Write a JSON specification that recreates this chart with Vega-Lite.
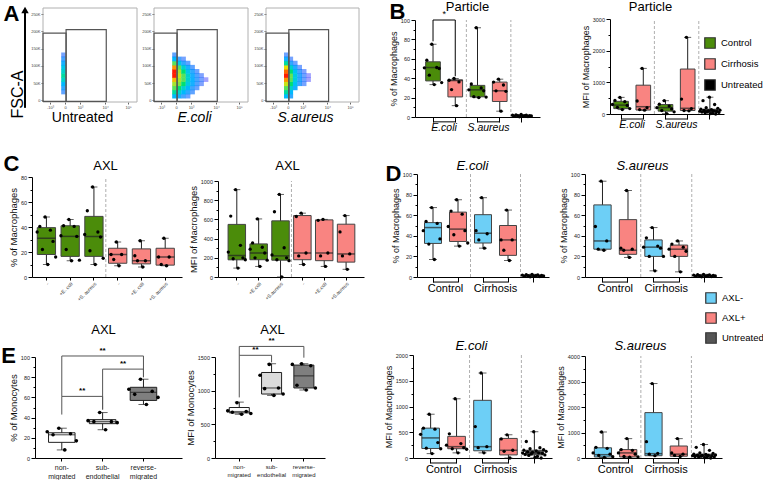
{
"$schema": "https://vega.github.io/schema/vega-lite/v6.json",
"width": 763, "height": 480,
"autosize": {"type": "none"},
"padding": 0,
"background": "white",
"config": {
  "font": "Liberation Sans",
  "view": {"stroke": null},
  "axis": {"grid": false, "domainColor": "#000", "domainWidth": 1, "tickColor": "#000", "tickWidth": 1, "labelFont": "Liberation Sans", "labelFontSize": 5.5, "labelColor": "#222", "labelPadding": 1.5, "labelFlush": false, "titleFont": "Liberation Sans", "titleFontSize": 9, "titleFontWeight": "normal", "titleColor": "#111", "titlePadding": 2, "labelOverlap": false},
  "legend": {"labelFont": "Liberation Sans"}
},
"datasets": {
  "flow": [
    {"p":"Untreated","u":-0.1,"k":24,"d":0.15},{"p":"Untreated","u":-0.1,"k":36,"d":0.25},{"p":"Untreated","u":-0.1,"k":48,"d":0.35},{"p":"Untreated","u":-0.1,"k":60,"d":0.45},{"p":"Untreated","u":-0.1,"k":72,"d":0.5},{"p":"Untreated","u":-0.1,"k":84,"d":0.45},{"p":"Untreated","u":-0.1,"k":96,"d":0.4},{"p":"Untreated","u":-0.1,"k":108,"d":0.3},{"p":"Untreated","u":-0.1,"k":120,"d":0.2},{"p":"Untreated","u":-0.1,"k":132,"d":0.1},
    {"p":"E.coli","u":-0.1,"k":12,"d":0.35},{"p":"E.coli","u":-0.1,"k":24,"d":0.5},{"p":"E.coli","u":-0.1,"k":36,"d":0.6},{"p":"E.coli","u":-0.1,"k":48,"d":0.7},{"p":"E.coli","u":-0.1,"k":60,"d":0.85},{"p":"E.coli","u":-0.1,"k":72,"d":1},{"p":"E.coli","u":-0.1,"k":84,"d":1},{"p":"E.coli","u":-0.1,"k":96,"d":0.9},{"p":"E.coli","u":-0.1,"k":108,"d":0.6},{"p":"E.coli","u":-0.1,"k":120,"d":0.35},{"p":"E.coli","u":-0.1,"k":132,"d":0.15},
    {"p":"E.coli","u":0.2,"k":12,"d":0.3},{"p":"E.coli","u":0.2,"k":24,"d":0.45},{"p":"E.coli","u":0.2,"k":36,"d":0.55},{"p":"E.coli","u":0.2,"k":48,"d":0.65},{"p":"E.coli","u":0.2,"k":60,"d":0.7},{"p":"E.coli","u":0.2,"k":72,"d":0.75},{"p":"E.coli","u":0.2,"k":84,"d":0.7},{"p":"E.coli","u":0.2,"k":96,"d":0.6},{"p":"E.coli","u":0.2,"k":108,"d":0.4},{"p":"E.coli","u":0.2,"k":120,"d":0.2},
    {"p":"E.coli","u":0.5,"k":12,"d":0.2},{"p":"E.coli","u":0.5,"k":24,"d":0.35},{"p":"E.coli","u":0.5,"k":36,"d":0.45},{"p":"E.coli","u":0.5,"k":48,"d":0.55},{"p":"E.coli","u":0.5,"k":60,"d":0.6},{"p":"E.coli","u":0.5,"k":72,"d":0.6},{"p":"E.coli","u":0.5,"k":84,"d":0.55},{"p":"E.coli","u":0.5,"k":96,"d":0.45},{"p":"E.coli","u":0.5,"k":108,"d":0.25},{"p":"E.coli","u":0.5,"k":120,"d":0.1},
    {"p":"E.coli","u":0.8,"k":12,"d":0.12},{"p":"E.coli","u":0.8,"k":24,"d":0.25},{"p":"E.coli","u":0.8,"k":36,"d":0.35},{"p":"E.coli","u":0.8,"k":48,"d":0.42},{"p":"E.coli","u":0.8,"k":60,"d":0.45},{"p":"E.coli","u":0.8,"k":72,"d":0.45},{"p":"E.coli","u":0.8,"k":84,"d":0.4},{"p":"E.coli","u":0.8,"k":96,"d":0.3},{"p":"E.coli","u":0.8,"k":108,"d":0.15},
    {"p":"E.coli","u":1.1,"k":24,"d":0.15},{"p":"E.coli","u":1.1,"k":36,"d":0.22},{"p":"E.coli","u":1.1,"k":48,"d":0.3},{"p":"E.coli","u":1.1,"k":60,"d":0.32},{"p":"E.coli","u":1.1,"k":72,"d":0.3},{"p":"E.coli","u":1.1,"k":84,"d":0.25},{"p":"E.coli","u":1.1,"k":96,"d":0.15},
    {"p":"E.coli","u":1.4,"k":36,"d":0.12},{"p":"E.coli","u":1.4,"k":48,"d":0.18},{"p":"E.coli","u":1.4,"k":60,"d":0.2},{"p":"E.coli","u":1.4,"k":72,"d":0.18},{"p":"E.coli","u":1.4,"k":84,"d":0.12},
    {"p":"E.coli","u":1.7,"k":48,"d":0.08},{"p":"E.coli","u":1.7,"k":60,"d":0.1},{"p":"E.coli","u":1.7,"k":72,"d":0.08},{"p":"E.coli","u":2.0,"k":60,"d":0.05},
    {"p":"S.aureus","u":-0.1,"k":12,"d":0.35},{"p":"S.aureus","u":-0.1,"k":24,"d":0.5},{"p":"S.aureus","u":-0.1,"k":36,"d":0.6},{"p":"S.aureus","u":-0.1,"k":48,"d":0.75},{"p":"S.aureus","u":-0.1,"k":60,"d":0.9},{"p":"S.aureus","u":-0.1,"k":72,"d":1},{"p":"S.aureus","u":-0.1,"k":84,"d":0.95},{"p":"S.aureus","u":-0.1,"k":96,"d":0.8},{"p":"S.aureus","u":-0.1,"k":108,"d":0.5},{"p":"S.aureus","u":-0.1,"k":120,"d":0.3},{"p":"S.aureus","u":-0.1,"k":132,"d":0.12},
    {"p":"S.aureus","u":0.2,"k":12,"d":0.25},{"p":"S.aureus","u":0.2,"k":24,"d":0.35},{"p":"S.aureus","u":0.2,"k":36,"d":0.45},{"p":"S.aureus","u":0.2,"k":48,"d":0.55},{"p":"S.aureus","u":0.2,"k":60,"d":0.6},{"p":"S.aureus","u":0.2,"k":72,"d":0.62},{"p":"S.aureus","u":0.2,"k":84,"d":0.55},{"p":"S.aureus","u":0.2,"k":96,"d":0.45},{"p":"S.aureus","u":0.2,"k":108,"d":0.25},{"p":"S.aureus","u":0.2,"k":120,"d":0.1},
    {"p":"S.aureus","u":0.5,"k":36,"d":0.3},{"p":"S.aureus","u":0.5,"k":48,"d":0.38},{"p":"S.aureus","u":0.5,"k":60,"d":0.42},{"p":"S.aureus","u":0.5,"k":72,"d":0.42},{"p":"S.aureus","u":0.5,"k":84,"d":0.38},{"p":"S.aureus","u":0.5,"k":96,"d":0.28},{"p":"S.aureus","u":0.5,"k":108,"d":0.12},
    {"p":"S.aureus","u":0.8,"k":48,"d":0.22},{"p":"S.aureus","u":0.8,"k":60,"d":0.25},{"p":"S.aureus","u":0.8,"k":72,"d":0.25},{"p":"S.aureus","u":0.8,"k":84,"d":0.2},{"p":"S.aureus","u":0.8,"k":96,"d":0.1},
    {"p":"S.aureus","u":1.1,"k":48,"d":0.1},{"p":"S.aureus","u":1.1,"k":60,"d":0.12},{"p":"S.aureus","u":1.1,"k":72,"d":0.12},{"p":"S.aureus","u":1.1,"k":84,"d":0.08},{"p":"S.aureus","u":1.4,"k":60,"d":0.05},{"p":"S.aureus","u":1.4,"k":72,"d":0.05}
  ],
  "gates": [{"x1":-1.47,"x2":0.07,"y1":-3,"y2":195},{"x1":0.07,"x2":2.75,"y1":-3,"y2":205}],
  "frame": [{"x1":-1.47,"x2":4.8,"y1":-5,"y2":268}],
  "fsc_arrow": [{"ax":-2.67,"ylo":-22,"yhi":262}],
  "bl_box": [
    {"cat":"E.coli Control","grp":"Control","min":33.4,"q1":37.2,"med":51,"q3":56.9,"max":75},
    {"cat":"E.coli Cirrhosis","grp":"Cirrhosis","min":11.7,"q1":20.7,"med":37.6,"q3":38.3,"max":39.7},
    {"cat":"S.aureus Control","grp":"Control","min":20,"q1":20.8,"med":28,"q3":32.6,"max":92},
    {"cat":"S.aureus Cirrhosis","grp":"Cirrhosis","min":6,"q1":16,"med":27,"q3":36,"max":39},
    {"cat":"Untreated","grp":"Untreated","min":0.2,"q1":0.6,"med":1.2,"q3":2,"max":2.6}
  ],
  "bl_pts": [
    {"cat":"E.coli Control","v":75,"i":4},{"cat":"E.coli Control","v":58.6,"i":2},{"cat":"E.coli Control","v":51,"i":6},{"cat":"E.coli Control","v":50.7,"i":1},{"cat":"E.coli Control","v":50,"i":7},{"cat":"E.coli Control","v":43.1,"i":3},{"cat":"E.coli Control","v":35.5,"i":8},{"cat":"E.coli Control","v":33.4,"i":5},
    {"cat":"E.coli Cirrhosis","v":39.7,"i":4},{"cat":"E.coli Cirrhosis","v":37.9,"i":2},{"cat":"E.coli Cirrhosis","v":36.2,"i":6},{"cat":"E.coli Cirrhosis","v":28.3,"i":3},{"cat":"E.coli Cirrhosis","v":11.7,"i":5},
    {"cat":"S.aureus Control","v":92,"i":4},{"cat":"S.aureus Control","v":34,"i":2},{"cat":"S.aureus Control","v":30,"i":6},{"cat":"S.aureus Control","v":28,"i":1},{"cat":"S.aureus Control","v":27,"i":7},{"cat":"S.aureus Control","v":21,"i":3},{"cat":"S.aureus Control","v":20.5,"i":8},{"cat":"S.aureus Control","v":20,"i":5},
    {"cat":"S.aureus Cirrhosis","v":39,"i":4},{"cat":"S.aureus Cirrhosis","v":36,"i":2},{"cat":"S.aureus Cirrhosis","v":33,"i":6},{"cat":"S.aureus Cirrhosis","v":27,"i":3},{"cat":"S.aureus Cirrhosis","v":26.5,"i":7},{"cat":"S.aureus Cirrhosis","v":6,"i":5},
    {"cat":"Untreated","v":2.6,"i":6},{"cat":"Untreated","v":2.2,"i":3},{"cat":"Untreated","v":2,"i":9},{"cat":"Untreated","v":1.8,"i":1},{"cat":"Untreated","v":1.5,"i":11},{"cat":"Untreated","v":1.3,"i":4},{"cat":"Untreated","v":1.2,"i":8},{"cat":"Untreated","v":1,"i":12},{"cat":"Untreated","v":0.8,"i":2},{"cat":"Untreated","v":0.6,"i":7},{"cat":"Untreated","v":0.4,"i":10},{"cat":"Untreated","v":0.2,"i":5}
  ],
  "b_brk": [{"a":"E.coli Control","b":"E.coli Cirrhosis"},{"a":"S.aureus Control","b":"S.aureus Cirrhosis"}],
  "b_sep": [{"cat":"S.aureus Control"},{"cat":"Untreated"}],
  "bl_sig": [{"a":"E.coli Control","b":"E.coli Cirrhosis","m":"E.coli Control","y":100,"ya":78,"yb":42,"t":"*"}],
  "br_box": [
    {"cat":"E.coli Control","grp":"Control","min":140,"q1":170,"med":280,"q3":400,"max":525},
    {"cat":"E.coli Cirrhosis","grp":"Cirrhosis","min":120,"q1":125,"med":230,"q3":910,"max":1440},
    {"cat":"S.aureus Control","grp":"Control","min":10,"q1":90,"med":200,"q3":300,"max":420},
    {"cat":"S.aureus Cirrhosis","grp":"Cirrhosis","min":100,"q1":110,"med":180,"q3":1420,"max":2420},
    {"cat":"Untreated","grp":"Untreated","min":0,"q1":50,"med":100,"q3":150,"max":530}
  ],
  "br_pts": [
    {"cat":"E.coli Control","v":525,"i":4},{"cat":"E.coli Control","v":430,"i":2},{"cat":"E.coli Control","v":390,"i":6},{"cat":"E.coli Control","v":300,"i":1},{"cat":"E.coli Control","v":270,"i":7},{"cat":"E.coli Control","v":210,"i":3},{"cat":"E.coli Control","v":170,"i":8},{"cat":"E.coli Control","v":140,"i":5},
    {"cat":"E.coli Cirrhosis","v":1440,"i":4},{"cat":"E.coli Cirrhosis","v":410,"i":2},{"cat":"E.coli Cirrhosis","v":200,"i":6},{"cat":"E.coli Cirrhosis","v":140,"i":3},{"cat":"E.coli Cirrhosis","v":120,"i":5},
    {"cat":"S.aureus Control","v":420,"i":4},{"cat":"S.aureus Control","v":310,"i":2},{"cat":"S.aureus Control","v":250,"i":6},{"cat":"S.aureus Control","v":200,"i":1},{"cat":"S.aureus Control","v":160,"i":7},{"cat":"S.aureus Control","v":110,"i":3},{"cat":"S.aureus Control","v":70,"i":8},{"cat":"S.aureus Control","v":10,"i":5},
    {"cat":"S.aureus Cirrhosis","v":2420,"i":4},{"cat":"S.aureus Cirrhosis","v":470,"i":2},{"cat":"S.aureus Cirrhosis","v":170,"i":6},{"cat":"S.aureus Cirrhosis","v":110,"i":3},{"cat":"S.aureus Cirrhosis","v":100,"i":5},
    {"cat":"Untreated","v":530,"i":10},{"cat":"Untreated","v":420,"i":4},{"cat":"Untreated","v":300,"i":15},{"cat":"Untreated","v":200,"i":7},{"cat":"Untreated","v":180,"i":18},{"cat":"Untreated","v":150,"i":2},{"cat":"Untreated","v":140,"i":12},{"cat":"Untreated","v":120,"i":20},{"cat":"Untreated","v":110,"i":5},{"cat":"Untreated","v":100,"i":9},{"cat":"Untreated","v":100,"i":14},{"cat":"Untreated","v":90,"i":1},{"cat":"Untreated","v":80,"i":17},{"cat":"Untreated","v":70,"i":8},{"cat":"Untreated","v":60,"i":3},{"cat":"Untreated","v":50,"i":19},{"cat":"Untreated","v":40,"i":6},{"cat":"Untreated","v":20,"i":13},{"cat":"Untreated","v":10,"i":11},{"cat":"Untreated","v":0,"i":16}
  ],
  "cl_box": [
    {"cat":"Control -","grp":"Control","min":10,"q1":18,"med":31,"q3":39.5,"max":48},
    {"cat":"Control +E. coli","grp":"Control","min":13,"q1":16.5,"med":32.5,"q3":41,"max":46},
    {"cat":"Control +S. aureus","grp":"Control","min":10,"q1":16.5,"med":32.5,"q3":48.5,"max":72},
    {"cat":"Cirrhosis -","grp":"Cirrhosis","min":9,"q1":11,"med":18,"q3":23,"max":28},
    {"cat":"Cirrhosis +E. coli","grp":"Cirrhosis","min":8,"q1":10.5,"med":13,"q3":22.5,"max":29},
    {"cat":"Cirrhosis +S. aureus","grp":"Cirrhosis","min":9,"q1":9.5,"med":16,"q3":23,"max":31}
  ],
  "cl_pts": [
    {"cat":"Control -","v":48,"i":4},{"cat":"Control -","v":40.5,"i":2},{"cat":"Control -","v":37.5,"i":6},{"cat":"Control -","v":36,"i":1},{"cat":"Control -","v":28.5,"i":7},{"cat":"Control -","v":22,"i":3},{"cat":"Control -","v":16,"i":8},{"cat":"Control -","v":10,"i":5},
    {"cat":"Control +E. coli","v":46,"i":4},{"cat":"Control +E. coli","v":41,"i":2},{"cat":"Control +E. coli","v":40.5,"i":6},{"cat":"Control +E. coli","v":33,"i":1},{"cat":"Control +E. coli","v":32.5,"i":7},{"cat":"Control +E. coli","v":22,"i":3},{"cat":"Control +E. coli","v":13.5,"i":8},{"cat":"Control +E. coli","v":13,"i":5},
    {"cat":"Control +S. aureus","v":72,"i":4},{"cat":"Control +S. aureus","v":53,"i":2},{"cat":"Control +S. aureus","v":36,"i":6},{"cat":"Control +S. aureus","v":34,"i":1},{"cat":"Control +S. aureus","v":32,"i":7},{"cat":"Control +S. aureus","v":21,"i":3},{"cat":"Control +S. aureus","v":15,"i":8},{"cat":"Control +S. aureus","v":10,"i":5},
    {"cat":"Cirrhosis -","v":28,"i":4},{"cat":"Cirrhosis -","v":18,"i":2},{"cat":"Cirrhosis -","v":18,"i":6},{"cat":"Cirrhosis -","v":14,"i":3},{"cat":"Cirrhosis -","v":9,"i":5},
    {"cat":"Cirrhosis +E. coli","v":29,"i":4},{"cat":"Cirrhosis +E. coli","v":17,"i":2},{"cat":"Cirrhosis +E. coli","v":13,"i":6},{"cat":"Cirrhosis +E. coli","v":13,"i":3},{"cat":"Cirrhosis +E. coli","v":8,"i":5},
    {"cat":"Cirrhosis +S. aureus","v":31,"i":4},{"cat":"Cirrhosis +S. aureus","v":16,"i":2},{"cat":"Cirrhosis +S. aureus","v":16,"i":6},{"cat":"Cirrhosis +S. aureus","v":10,"i":3},{"cat":"Cirrhosis +S. aureus","v":9,"i":5}
  ],
  "cr_box": [
    {"cat":"Control -","grp":"Control","min":93,"q1":179,"med":224,"q3":548,"max":910},
    {"cat":"Control +E.coli","grp":"Control","min":110,"q1":180,"med":250,"q3":345,"max":605},
    {"cat":"Control +S.aureus","grp":"Control","min":0,"q1":175,"med":220,"q3":585,"max":860},
    {"cat":"Cirrhosis -","grp":"Cirrhosis","min":130,"q1":180,"med":250,"q3":640,"max":665},
    {"cat":"Cirrhosis +E.coli","grp":"Cirrhosis","min":110,"q1":170,"med":250,"q3":595,"max":600},
    {"cat":"Cirrhosis +S.aureus","grp":"Cirrhosis","min":80,"q1":155,"med":240,"q3":550,"max":640}
  ],
  "cr_pts": [
    {"cat":"Control -","v":910,"i":4},{"cat":"Control -","v":635,"i":2},{"cat":"Control -","v":330,"i":6},{"cat":"Control -","v":260,"i":1},{"cat":"Control -","v":200,"i":7},{"cat":"Control -","v":190,"i":3},{"cat":"Control -","v":180,"i":8},{"cat":"Control -","v":93,"i":5},
    {"cat":"Control +E.coli","v":605,"i":4},{"cat":"Control +E.coli","v":355,"i":2},{"cat":"Control +E.coli","v":310,"i":6},{"cat":"Control +E.coli","v":290,"i":1},{"cat":"Control +E.coli","v":250,"i":7},{"cat":"Control +E.coli","v":200,"i":3},{"cat":"Control +E.coli","v":175,"i":8},{"cat":"Control +E.coli","v":110,"i":5},
    {"cat":"Control +S.aureus","v":860,"i":4},{"cat":"Control +S.aureus","v":680,"i":2},{"cat":"Control +S.aureus","v":305,"i":6},{"cat":"Control +S.aureus","v":230,"i":1},{"cat":"Control +S.aureus","v":200,"i":7},{"cat":"Control +S.aureus","v":180,"i":3},{"cat":"Control +S.aureus","v":170,"i":8},{"cat":"Control +S.aureus","v":0,"i":5},
    {"cat":"Cirrhosis -","v":665,"i":4},{"cat":"Cirrhosis -","v":630,"i":2},{"cat":"Cirrhosis -","v":250,"i":6},{"cat":"Cirrhosis -","v":220,"i":3},{"cat":"Cirrhosis -","v":130,"i":5},
    {"cat":"Cirrhosis +E.coli","v":600,"i":4},{"cat":"Cirrhosis +E.coli","v":590,"i":2},{"cat":"Cirrhosis +E.coli","v":250,"i":6},{"cat":"Cirrhosis +E.coli","v":220,"i":3},{"cat":"Cirrhosis +E.coli","v":110,"i":5},
    {"cat":"Cirrhosis +S.aureus","v":640,"i":4},{"cat":"Cirrhosis +S.aureus","v":470,"i":2},{"cat":"Cirrhosis +S.aureus","v":240,"i":6},{"cat":"Cirrhosis +S.aureus","v":220,"i":3},{"cat":"Cirrhosis +S.aureus","v":80,"i":5}
  ],
  "c_sep": [{"cat":"Cirrhosis -"}],
  "d_brk": [{"a":"Control AXL-","b":"Control AXL+"},{"a":"Cirrhosis AXL-","b":"Cirrhosis AXL+"}],
  "d_sep": [{"cat":"Cirrhosis AXL-"},{"cat":"Untreated"}],
  "dtl_box": [
    {"cat":"Control AXL-","grp":"AXL-","min":17,"q1":32.6,"med":48,"q3":52.8,"max":67.4},
    {"cat":"Control AXL+","grp":"AXL+","min":30,"q1":34.5,"med":46.5,"q3":63,"max":75},
    {"cat":"Cirrhosis AXL-","grp":"AXL-","min":28,"q1":33,"med":42.5,"q3":60.5,"max":77},
    {"cat":"Cirrhosis AXL+","grp":"AXL+","min":16,"q1":21,"med":36,"q3":50,"max":65},
    {"cat":"Untreated","grp":"Untreated","min":0.2,"q1":0.6,"med":1.2,"q3":2,"max":2.6}
  ],
  "dtl_pts": [
    {"cat":"Control AXL-","v":67.4,"i":4},{"cat":"Control AXL-","v":54,"i":2},{"cat":"Control AXL-","v":52,"i":6},{"cat":"Control AXL-","v":45,"i":1},{"cat":"Control AXL-","v":37,"i":7},{"cat":"Control AXL-","v":32,"i":3},{"cat":"Control AXL-","v":17,"i":5},
    {"cat":"Control AXL+","v":75,"i":4},{"cat":"Control AXL+","v":64,"i":2},{"cat":"Control AXL+","v":61,"i":6},{"cat":"Control AXL+","v":49,"i":1},{"cat":"Control AXL+","v":45,"i":7},{"cat":"Control AXL+","v":41,"i":3},{"cat":"Control AXL+","v":33,"i":8},{"cat":"Control AXL+","v":30,"i":5},
    {"cat":"Cirrhosis AXL-","v":77,"i":4},{"cat":"Cirrhosis AXL-","v":45,"i":2},{"cat":"Cirrhosis AXL-","v":42,"i":6},{"cat":"Cirrhosis AXL-","v":36,"i":3},{"cat":"Cirrhosis AXL-","v":28,"i":5},
    {"cat":"Cirrhosis AXL+","v":65,"i":4},{"cat":"Cirrhosis AXL+","v":36,"i":2},{"cat":"Cirrhosis AXL+","v":36,"i":6},{"cat":"Cirrhosis AXL+","v":26,"i":3},{"cat":"Cirrhosis AXL+","v":16,"i":5},
    {"cat":"Untreated","v":2.6,"i":6},{"cat":"Untreated","v":2.2,"i":3},{"cat":"Untreated","v":2,"i":9},{"cat":"Untreated","v":1.8,"i":1},{"cat":"Untreated","v":1.5,"i":11},{"cat":"Untreated","v":1.3,"i":4},{"cat":"Untreated","v":1.2,"i":8},{"cat":"Untreated","v":1,"i":12},{"cat":"Untreated","v":0.8,"i":2},{"cat":"Untreated","v":0.6,"i":7},{"cat":"Untreated","v":0.4,"i":10},{"cat":"Untreated","v":0.2,"i":5}
  ],
  "dtr_box": [
    {"cat":"Control AXL-","grp":"AXL-","min":26,"q1":27,"med":35,"q3":70,"max":93},
    {"cat":"Control AXL+","grp":"AXL+","min":19,"q1":22,"med":26,"q3":55.7,"max":84},
    {"cat":"Cirrhosis AXL-","grp":"AXL-","min":6,"q1":20,"med":29,"q3":36,"max":48},
    {"cat":"Cirrhosis AXL+","grp":"AXL+","min":5,"q1":20,"med":27,"q3":31,"max":35},
    {"cat":"Untreated","grp":"Untreated","min":0.2,"q1":0.6,"med":1.2,"q3":2,"max":2.6}
  ],
  "dtr_pts": [
    {"cat":"Control AXL-","v":93,"i":4},{"cat":"Control AXL-","v":49,"i":2},{"cat":"Control AXL-","v":35,"i":6},{"cat":"Control AXL-","v":27,"i":3},{"cat":"Control AXL-","v":26,"i":5},
    {"cat":"Control AXL+","v":84,"i":4},{"cat":"Control AXL+","v":28,"i":2},{"cat":"Control AXL+","v":27,"i":6},{"cat":"Control AXL+","v":26,"i":3},{"cat":"Control AXL+","v":19,"i":5},
    {"cat":"Cirrhosis AXL-","v":48,"i":4},{"cat":"Cirrhosis AXL-","v":38,"i":2},{"cat":"Cirrhosis AXL-","v":30,"i":6},{"cat":"Cirrhosis AXL-","v":29,"i":1},{"cat":"Cirrhosis AXL-","v":28,"i":7},{"cat":"Cirrhosis AXL-","v":20,"i":3},{"cat":"Cirrhosis AXL-","v":20,"i":8},{"cat":"Cirrhosis AXL-","v":6,"i":5},
    {"cat":"Cirrhosis AXL+","v":35,"i":4},{"cat":"Cirrhosis AXL+","v":32,"i":2},{"cat":"Cirrhosis AXL+","v":29,"i":6},{"cat":"Cirrhosis AXL+","v":27,"i":1},{"cat":"Cirrhosis AXL+","v":25,"i":7},{"cat":"Cirrhosis AXL+","v":20,"i":3},{"cat":"Cirrhosis AXL+","v":5,"i":5},
    {"cat":"Untreated","v":2.6,"i":6},{"cat":"Untreated","v":2.2,"i":3},{"cat":"Untreated","v":2,"i":9},{"cat":"Untreated","v":1.8,"i":1},{"cat":"Untreated","v":1.5,"i":11},{"cat":"Untreated","v":1.3,"i":4},{"cat":"Untreated","v":1.2,"i":8},{"cat":"Untreated","v":1,"i":12},{"cat":"Untreated","v":0.8,"i":2},{"cat":"Untreated","v":0.6,"i":7},{"cat":"Untreated","v":0.4,"i":10},{"cat":"Untreated","v":0.2,"i":5}
  ],
  "dbl_box": [
    {"cat":"Control AXL-","grp":"AXL-","min":85,"q1":185,"med":390,"q3":580,"max":850},
    {"cat":"Control AXL+","grp":"AXL+","min":100,"q1":180,"med":220,"q3":420,"max":1150},
    {"cat":"Cirrhosis AXL-","grp":"AXL-","min":100,"q1":140,"med":220,"q3":1120,"max":1650},
    {"cat":"Cirrhosis AXL+","grp":"AXL+","min":0,"q1":60,"med":150,"q3":380,"max":450},
    {"cat":"Untreated","grp":"Untreated","min":0,"q1":60,"med":100,"q3":150,"max":510}
  ],
  "dbl_pts": [
    {"cat":"Control AXL-","v":850,"i":4},{"cat":"Control AXL-","v":580,"i":2},{"cat":"Control AXL-","v":560,"i":6},{"cat":"Control AXL-","v":460,"i":1},{"cat":"Control AXL-","v":300,"i":7},{"cat":"Control AXL-","v":190,"i":3},{"cat":"Control AXL-","v":180,"i":8},{"cat":"Control AXL-","v":85,"i":5},
    {"cat":"Control AXL+","v":1150,"i":4},{"cat":"Control AXL+","v":470,"i":2},{"cat":"Control AXL+","v":280,"i":6},{"cat":"Control AXL+","v":250,"i":1},{"cat":"Control AXL+","v":200,"i":7},{"cat":"Control AXL+","v":180,"i":3},{"cat":"Control AXL+","v":170,"i":8},{"cat":"Control AXL+","v":100,"i":5},
    {"cat":"Cirrhosis AXL-","v":1650,"i":4},{"cat":"Cirrhosis AXL-","v":610,"i":2},{"cat":"Cirrhosis AXL-","v":220,"i":6},{"cat":"Cirrhosis AXL-","v":200,"i":3},{"cat":"Cirrhosis AXL-","v":100,"i":5},
    {"cat":"Cirrhosis AXL+","v":450,"i":4},{"cat":"Cirrhosis AXL+","v":370,"i":2},{"cat":"Cirrhosis AXL+","v":150,"i":6},{"cat":"Cirrhosis AXL+","v":130,"i":3},{"cat":"Cirrhosis AXL+","v":0,"i":5},
    {"cat":"Untreated","v":510,"i":10},{"cat":"Untreated","v":320,"i":4},{"cat":"Untreated","v":200,"i":15},{"cat":"Untreated","v":180,"i":7},{"cat":"Untreated","v":160,"i":18},{"cat":"Untreated","v":150,"i":2},{"cat":"Untreated","v":140,"i":12},{"cat":"Untreated","v":130,"i":20},{"cat":"Untreated","v":120,"i":5},{"cat":"Untreated","v":110,"i":9},{"cat":"Untreated","v":100,"i":14},{"cat":"Untreated","v":95,"i":1},{"cat":"Untreated","v":90,"i":17},{"cat":"Untreated","v":80,"i":8},{"cat":"Untreated","v":70,"i":3},{"cat":"Untreated","v":60,"i":19},{"cat":"Untreated","v":50,"i":6},{"cat":"Untreated","v":30,"i":13},{"cat":"Untreated","v":10,"i":11},{"cat":"Untreated","v":0,"i":16}
  ],
  "dbr_box": [
    {"cat":"Control AXL-","grp":"AXL-","min":20,"q1":40,"med":130,"q3":400,"max":1020},
    {"cat":"Control AXL+","grp":"AXL+","min":30,"q1":40,"med":200,"q3":330,"max":760},
    {"cat":"Cirrhosis AXL-","grp":"AXL-","min":90,"q1":90,"med":170,"q3":1780,"max":2920},
    {"cat":"Cirrhosis AXL+","grp":"AXL+","min":60,"q1":70,"med":150,"q3":470,"max":760},
    {"cat":"Untreated","grp":"Untreated","min":0,"q1":50,"med":100,"q3":150,"max":530}
  ],
  "dbr_pts": [
    {"cat":"Control AXL-","v":1020,"i":4},{"cat":"Control AXL-","v":420,"i":2},{"cat":"Control AXL-","v":380,"i":6},{"cat":"Control AXL-","v":200,"i":1},{"cat":"Control AXL-","v":150,"i":7},{"cat":"Control AXL-","v":100,"i":3},{"cat":"Control AXL-","v":50,"i":8},{"cat":"Control AXL-","v":20,"i":5},
    {"cat":"Control AXL+","v":760,"i":4},{"cat":"Control AXL+","v":330,"i":2},{"cat":"Control AXL+","v":300,"i":6},{"cat":"Control AXL+","v":200,"i":1},{"cat":"Control AXL+","v":150,"i":7},{"cat":"Control AXL+","v":60,"i":3},{"cat":"Control AXL+","v":40,"i":8},{"cat":"Control AXL+","v":30,"i":5},
    {"cat":"Cirrhosis AXL-","v":2920,"i":4},{"cat":"Cirrhosis AXL-","v":640,"i":2},{"cat":"Cirrhosis AXL-","v":180,"i":6},{"cat":"Cirrhosis AXL-","v":150,"i":3},{"cat":"Cirrhosis AXL-","v":90,"i":5},
    {"cat":"Cirrhosis AXL+","v":760,"i":4},{"cat":"Cirrhosis AXL+","v":200,"i":2},{"cat":"Cirrhosis AXL+","v":150,"i":6},{"cat":"Cirrhosis AXL+","v":100,"i":3},{"cat":"Cirrhosis AXL+","v":60,"i":5},
    {"cat":"Untreated","v":530,"i":10},{"cat":"Untreated","v":420,"i":4},{"cat":"Untreated","v":300,"i":15},{"cat":"Untreated","v":200,"i":7},{"cat":"Untreated","v":180,"i":18},{"cat":"Untreated","v":150,"i":2},{"cat":"Untreated","v":140,"i":12},{"cat":"Untreated","v":120,"i":20},{"cat":"Untreated","v":110,"i":5},{"cat":"Untreated","v":100,"i":9},{"cat":"Untreated","v":100,"i":14},{"cat":"Untreated","v":90,"i":1},{"cat":"Untreated","v":80,"i":17},{"cat":"Untreated","v":70,"i":8},{"cat":"Untreated","v":60,"i":3},{"cat":"Untreated","v":50,"i":19},{"cat":"Untreated","v":40,"i":6},{"cat":"Untreated","v":20,"i":13},{"cat":"Untreated","v":10,"i":11},{"cat":"Untreated","v":0,"i":16}
  ],
  "el_box": [
    {"cat":"non-migrated","grp":"non-migrated","min":8,"q1":15.5,"med":23,"q3":25,"max":29.5},
    {"cat":"sub-endothelial","grp":"sub-endothelial","min":28,"q1":34,"med":36,"q3":38,"max":45},
    {"cat":"reverse-migrated","grp":"reverse-migrated","min":53,"q1":57,"med":65,"q3":70,"max":78}
  ],
  "el_pts": [
    {"cat":"non-migrated","v":29.5,"i":3},{"cat":"non-migrated","v":26,"i":1},{"cat":"non-migrated","v":24,"i":5},{"cat":"non-migrated","v":23,"i":2},{"cat":"non-migrated","v":17,"i":6},{"cat":"non-migrated","v":8,"i":4},
    {"cat":"sub-endothelial","v":45,"i":3},{"cat":"sub-endothelial","v":37,"i":1},{"cat":"sub-endothelial","v":36,"i":5},{"cat":"sub-endothelial","v":36,"i":2},{"cat":"sub-endothelial","v":35,"i":6},{"cat":"sub-endothelial","v":28,"i":4},
    {"cat":"reverse-migrated","v":78,"i":3},{"cat":"reverse-migrated","v":68,"i":1},{"cat":"reverse-migrated","v":66,"i":5},{"cat":"reverse-migrated","v":63,"i":2},{"cat":"reverse-migrated","v":60,"i":6},{"cat":"reverse-migrated","v":53,"i":4}
  ],
  "el_sig": [
    {"a":"non-migrated","b":"sub-endothelial","m":"non-migrated","y":61,"ya":43,"yb":48,"t":"**","span":1},
    {"a":"sub-endothelial","b":"reverse-migrated","m":"sub-endothelial","y":88,"ya":48,"yb":80,"t":"**","span":1},
    {"a":"non-migrated","b":"reverse-migrated","m":"sub-endothelial","y":101,"ya":61,"yb":80,"t":"**","span":2}
  ],
  "er_box": [
    {"cat":"non-migrated","grp":"non-migrated","min":650,"q1":670,"med":690,"q3":750,"max":830},
    {"cat":"sub-endothelial","grp":"sub-endothelial","min":930,"q1":950,"med":1040,"q3":1270,"max":1400},
    {"cat":"reverse-migrated","grp":"reverse-migrated","min":1010,"q1":1040,"med":1220,"q3":1380,"max":1400}
  ],
  "er_pts": [
    {"cat":"non-migrated","v":820,"i":3},{"cat":"non-migrated","v":700,"i":1},{"cat":"non-migrated","v":690,"i":5},{"cat":"non-migrated","v":680,"i":2},{"cat":"non-migrated","v":660,"i":6},{"cat":"non-migrated","v":650,"i":4},
    {"cat":"sub-endothelial","v":1390,"i":3},{"cat":"sub-endothelial","v":1230,"i":1},{"cat":"sub-endothelial","v":1040,"i":5},{"cat":"sub-endothelial","v":1030,"i":2},{"cat":"sub-endothelial","v":950,"i":6},{"cat":"sub-endothelial","v":930,"i":4},
    {"cat":"reverse-migrated","v":1400,"i":3},{"cat":"reverse-migrated","v":1390,"i":1},{"cat":"reverse-migrated","v":1370,"i":5},{"cat":"reverse-migrated","v":1080,"i":2},{"cat":"reverse-migrated","v":1040,"i":6},{"cat":"reverse-migrated","v":1010,"i":4}
  ],
  "er_sig": [
    {"a":"non-migrated","b":"sub-endothelial","m":"non-migrated","y":1525,"ya":900,"yb":1420,"t":"**","span":1},
    {"a":"non-migrated","b":"reverse-migrated","m":"sub-endothelial","y":1657,"ya":1525,"yb":1490,"t":"**","span":2}
  ]
},
"resolve": {"scale": {"x": "independent", "y": "independent", "fill": "independent", "color": "independent", "opacity": "independent", "xOffset": "independent"}, "axis": {"x": "independent", "y": "independent"}, "legend": {"fill": "independent", "color": "independent", "opacity": "independent"}},
"layer": [
  {
    "resolve": {"axis": {"x": "independent", "y": "independent"}},
    "layer": [
      {"data": {"name": "flow"}, "transform": [{"filter": "datum.p == 'Untreated'"}],
       "mark": {"type": "point", "shape": "square", "filled": true, "size": 22, "strokeWidth": 0},
       "encoding": {
         "x": {"field": "u", "type": "quantitative", "scale": {"domain": [-1.47, 4.8], "range": [43, 137], "nice": false, "zero": false},
               "axis": {"orient": "bottom", "offset": -378, "values": [-1, 0, 1, 2.67, 4.2], "labelExpr": "datum.value == -1 ? '-10³' : datum.value == 0 ? '0' : datum.value == 1 ? '10³' : datum.value < 3 ? '10⁴' : '10⁵'", "labelFontSize": 4, "labelColor": "#444", "tickSize": 2, "tickColor": "#666", "domain": false, "labelPadding": 1,
                        "title": "Untreated", "titleFontSize": 14, "titleColor": "#000", "titleX": 82, "titleY": 15, "titleAlign": "center", "titleBaseline": "middle"}},
         "y": {"field": "k", "type": "quantitative", "scale": {"domain": [-5, 268], "range": [102, 8], "nice": false, "zero": false},
               "axis": {"orient": "left", "offset": -43, "values": [0, 50, 100, 150, 200, 250], "labelExpr": "datum.value == 0 ? '0' : datum.value + 'K'", "labelFontSize": 4, "labelColor": "#444", "tickSize": 2, "tickColor": "#666", "domain": false, "labelPadding": 1,
                        "title": "FSC-A", "titleFontSize": 16, "titleColor": "#000", "titleX": -26, "titleY": 94, "titleAngle": -90, "titleAlign": "center", "titleBaseline": "middle"}},
         "color": {"field": "d", "type": "quantitative", "scale": {"domain": [0.05, 0.3, 0.55, 0.8, 1], "range": ["#3030ff", "#00a8ff", "#00e070", "#e8e000", "#ff1a00"]}, "legend": null},
         "opacity": {"field": "d", "type": "quantitative", "scale": {"domain": [0, 0.35], "range": [0.35, 1], "clamp": true}, "legend": null}}},
      {"data": {"name": "frame"}, "mark": {"type": "rect", "fillOpacity": 0, "stroke": "#b0b0b0", "strokeWidth": 1},
       "encoding": {"x": {"field": "x1", "type": "quantitative", "axis": {"orient": "top", "offset": 0, "domain": false, "ticks": false, "labels": false, "title": "A", "titleX": 11, "titleY": 13, "titleAlign": "center", "titleBaseline": "middle", "titleFontSize": 22, "titleFontWeight": "bold", "titleColor": "#000"}}, "x2": {"field": "x2"}, "y": {"field": "y1", "type": "quantitative", "axis": null}, "y2": {"field": "y2"}}},
      {"data": {"name": "gates"}, "mark": {"type": "rect", "fillOpacity": 0, "stroke": "#555", "strokeWidth": 1.2},
       "encoding": {"x": {"field": "x1", "type": "quantitative", "axis": null}, "x2": {"field": "x2"}, "y": {"field": "y1", "type": "quantitative", "axis": null}, "y2": {"field": "y2"}}},
      {"data": {"name": "fsc_arrow"}, "mark": {"type": "rule", "color": "#000", "strokeWidth": 2},
       "encoding": {"x": {"field": "ax", "type": "quantitative", "axis": null}, "y": {"field": "ylo", "type": "quantitative", "axis": null}, "y2": {"field": "yhi"}}},
      {"data": {"name": "fsc_arrow"}, "mark": {"type": "point", "shape": "triangle-up", "filled": true, "size": 55, "color": "#000", "opacity": 1},
       "encoding": {"x": {"field": "ax", "type": "quantitative", "axis": null}, "y": {"field": "yhi", "type": "quantitative", "axis": null}}}
    ]
  },
  {
    "resolve": {"axis": {"x": "independent", "y": "independent"}},
    "layer": [
      {"data": {"name": "flow"}, "transform": [{"filter": "datum.p == 'E.coli'"}],
       "mark": {"type": "point", "shape": "square", "filled": true, "size": 22, "strokeWidth": 0},
       "encoding": {
         "x": {"field": "u", "type": "quantitative", "scale": {"domain": [-1.47, 4.8], "range": [154, 248], "nice": false, "zero": false},
               "axis": {"orient": "bottom", "offset": -378, "values": [-1, 0, 1, 2.67, 4.2], "labelExpr": "datum.value == -1 ? '-10³' : datum.value == 0 ? '0' : datum.value == 1 ? '10³' : datum.value < 3 ? '10⁴' : '10⁵'", "labelFontSize": 4, "labelColor": "#444", "tickSize": 2, "tickColor": "#666", "domain": false, "labelPadding": 1,
                        "title": "E.coli", "titleFontSize": 14, "titleFontStyle": "italic", "titleColor": "#000", "titleX": 194, "titleY": 15, "titleAlign": "center", "titleBaseline": "middle"}},
         "y": {"field": "k", "type": "quantitative", "scale": {"domain": [-5, 268], "range": [102, 8], "nice": false, "zero": false},
               "axis": {"orient": "left", "offset": -154, "values": [0, 50, 100, 150, 200, 250], "labelExpr": "datum.value == 0 ? '0' : datum.value + 'K'", "labelFontSize": 4, "labelColor": "#444", "tickSize": 2, "tickColor": "#666", "domain": false, "labelPadding": 1, "title": null}},
         "color": {"field": "d", "type": "quantitative", "scale": {"domain": [0.05, 0.3, 0.55, 0.8, 1], "range": ["#3030ff", "#00a8ff", "#00e070", "#e8e000", "#ff1a00"]}, "legend": null},
         "opacity": {"field": "d", "type": "quantitative", "scale": {"domain": [0, 0.35], "range": [0.35, 1], "clamp": true}, "legend": null}}},
      {"data": {"name": "frame"}, "mark": {"type": "rect", "fillOpacity": 0, "stroke": "#b0b0b0", "strokeWidth": 1},
       "encoding": {"x": {"field": "x1", "type": "quantitative", "axis": null}, "x2": {"field": "x2"}, "y": {"field": "y1", "type": "quantitative", "axis": null}, "y2": {"field": "y2"}}},
      {"data": {"name": "gates"}, "mark": {"type": "rect", "fillOpacity": 0, "stroke": "#555", "strokeWidth": 1.2},
       "encoding": {"x": {"field": "x1", "type": "quantitative", "axis": null}, "x2": {"field": "x2"}, "y": {"field": "y1", "type": "quantitative", "axis": null}, "y2": {"field": "y2"}}}
    ]
  },
  {
    "resolve": {"axis": {"x": "independent", "y": "independent"}},
    "layer": [
      {"data": {"name": "flow"}, "transform": [{"filter": "datum.p == 'S.aureus'"}],
       "mark": {"type": "point", "shape": "square", "filled": true, "size": 22, "strokeWidth": 0},
       "encoding": {
         "x": {"field": "u", "type": "quantitative", "scale": {"domain": [-1.47, 4.8], "range": [266, 359], "nice": false, "zero": false},
               "axis": {"orient": "bottom", "offset": -378, "values": [-1, 0, 1, 2.67, 4.2], "labelExpr": "datum.value == -1 ? '-10³' : datum.value == 0 ? '0' : datum.value == 1 ? '10³' : datum.value < 3 ? '10⁴' : '10⁵'", "labelFontSize": 4, "labelColor": "#444", "tickSize": 2, "tickColor": "#666", "domain": false, "labelPadding": 1,
                        "title": "S.aureus", "titleFontSize": 14, "titleFontStyle": "italic", "titleColor": "#000", "titleX": 305, "titleY": 15, "titleAlign": "center", "titleBaseline": "middle"}},
         "y": {"field": "k", "type": "quantitative", "scale": {"domain": [-5, 268], "range": [102, 8], "nice": false, "zero": false},
               "axis": {"orient": "left", "offset": -266, "values": [0, 50, 100, 150, 200, 250], "labelExpr": "datum.value == 0 ? '0' : datum.value + 'K'", "labelFontSize": 4, "labelColor": "#444", "tickSize": 2, "tickColor": "#666", "domain": false, "labelPadding": 1, "title": null}},
         "color": {"field": "d", "type": "quantitative", "scale": {"domain": [0.05, 0.3, 0.55, 0.8, 1], "range": ["#3030ff", "#00a8ff", "#00e070", "#e8e000", "#ff1a00"]}, "legend": null},
         "opacity": {"field": "d", "type": "quantitative", "scale": {"domain": [0, 0.35], "range": [0.35, 1], "clamp": true}, "legend": null}}},
      {"data": {"name": "frame"}, "mark": {"type": "rect", "fillOpacity": 0, "stroke": "#b0b0b0", "strokeWidth": 1},
       "encoding": {"x": {"field": "x1", "type": "quantitative", "axis": null}, "x2": {"field": "x2"}, "y": {"field": "y1", "type": "quantitative", "axis": null}, "y2": {"field": "y2"}}},
      {"data": {"name": "gates"}, "mark": {"type": "rect", "fillOpacity": 0, "stroke": "#555", "strokeWidth": 1.2},
       "encoding": {"x": {"field": "x1", "type": "quantitative", "axis": null}, "x2": {"field": "x2"}, "y": {"field": "y1", "type": "quantitative", "axis": null}, "y2": {"field": "y2"}}}
    ]
  },
  {
    "resolve": {"axis": {"x": "independent", "y": "independent"}, "scale": {"xOffset": "independent"}},
    "layer": [
      {"data": {"name": "b_sep"}, "mark": {"type": "rule", "color": "#9a9a9a", "strokeDash": [3, 2], "strokeWidth": 0.8},
       "encoding": {"x": {"field": "cat", "type": "nominal", "bandPosition": 0, "axis": {"orient": "top", "offset": 0, "domain": false, "ticks": false, "labels": false, "title": "Particle", "titleX": 467, "titleY": 6, "titleAlign": "center", "titleBaseline": "middle", "titleFontSize": 13, "titleColor": "#000"}},
                    "y": {"datum": 0, "type": "quantitative", "axis": null}, "y2": {"datum": 100}}},
      {"data": {"name": "bl_box"}, "mark": {"type": "rule", "color": "#222"},
       "encoding": {
         "x": {"field": "cat", "type": "nominal", "scale": {"domain": ["E.coli Control", "E.coli Cirrhosis", "S.aureus Control", "S.aureus Cirrhosis", "Untreated"], "range": [415, 540], "paddingInner": 0, "paddingOuter": 0.31, "align": 0.5},
               "axis": {"orient": "bottom", "offset": -363, "title": null, "tickSize": 5, "labelExpr": "datum.value == 'E.coli Control' ? 'E.coli' : datum.value == 'S.aureus Control' ? 'S.aureus' : ''", "labelOffset": 11, "labelFontSize": 10.5, "labelFontStyle": "italic", "labelColor": "#000", "labelPadding": 0, "labelAngle": 0}},
         "y": {"field": "min", "type": "quantitative", "scale": {"domain": [0, 100], "range": [117, 20], "nice": false},
               "axis": {"orient": "left", "offset": -415, "title": "% of Macrophages", "values": [0, 10, 20, 30, 40, 50, 60, 70, 80, 90, 100], "labelExpr": "datum.value % 20 == 0 ? datum.label : ''", "tickSize": {"condition": {"test": "datum.value % 20 != 0", "value": 2}, "value": 4}}},
         "y2": {"field": "max"}}},
      {"data": {"name": "bl_box"}, "mark": {"type": "bar", "width": {"band": 0.66}, "stroke": "#444", "strokeWidth": 1},
       "encoding": {
         "x": {"field": "cat", "type": "nominal", "axis": {"orient": "top", "offset": 0, "domain": false, "ticks": false, "labels": false, "title": "B", "titleX": 397, "titleY": 11, "titleAlign": "center", "titleBaseline": "middle", "titleFontSize": 22, "titleFontWeight": "bold", "titleColor": "#000"}},
         "y": {"field": "q1", "type": "quantitative", "axis": null},
         "y2": {"field": "q3"},
         "fill": {"field": "grp", "type": "nominal", "scale": {"domain": ["Control", "Cirrhosis", "Untreated"], "range": ["#4b8c0a", "#f98481", "#000000"]}, "legend": null}}},
      {"data": {"name": "bl_box"}, "mark": {"type": "tick", "orient": "horizontal", "size": 7, "thickness": 1, "color": "#222"},
       "encoding": {"x": {"field": "cat", "type": "nominal", "axis": null}, "y": {"field": "min", "type": "quantitative", "axis": null}}},
      {"data": {"name": "bl_box"}, "mark": {"type": "tick", "orient": "horizontal", "size": 7, "thickness": 1, "color": "#222"},
       "encoding": {"x": {"field": "cat", "type": "nominal", "axis": null}, "y": {"field": "max", "type": "quantitative", "axis": null}}},
      {"data": {"name": "bl_box"}, "mark": {"type": "tick", "orient": "horizontal", "size": 14.7, "thickness": 1.5, "color": "#222"},
       "encoding": {"x": {"field": "cat", "type": "nominal", "axis": null}, "y": {"field": "med", "type": "quantitative", "axis": null}}},
      {"data": {"name": "bl_pts"}, "transform": [{"filter": "datum.cat != 'Untreated'"}], "mark": {"type": "circle", "size": 11, "color": "#000", "opacity": 1},
       "encoding": {"x": {"field": "cat", "type": "nominal", "axis": null}, "xOffset": {"field": "i", "type": "nominal", "scale": {"paddingOuter": 3}}, "y": {"field": "v", "type": "quantitative", "axis": null}}},
      {"data": {"name": "bl_pts"}, "transform": [{"filter": "datum.cat == 'Untreated'"}], "mark": {"type": "circle", "size": 11, "color": "#000", "opacity": 1},
       "encoding": {"x": {"field": "cat", "type": "nominal", "axis": null}, "xOffset": {"field": "i", "type": "nominal", "scale": {"paddingOuter": 3}}, "y": {"field": "v", "type": "quantitative", "axis": null}}},
      {"data": {"name": "b_brk"}, "mark": {"type": "rule", "color": "#000"},
       "encoding": {"x": {"field": "a", "type": "nominal", "axis": null}, "x2": {"field": "b"}, "y": {"datum": -5, "type": "quantitative", "axis": null}}},
      {"data": {"name": "bl_sig"}, "mark": {"type": "rule", "color": "#000"},
       "encoding": {"x": {"field": "a", "type": "nominal", "axis": null}, "x2": {"field": "b"}, "y": {"field": "y", "type": "quantitative", "axis": null}}},
      {"data": {"name": "bl_sig"}, "mark": {"type": "rule", "color": "#000"},
       "encoding": {"x": {"field": "a", "type": "nominal", "axis": null}, "y": {"field": "y", "type": "quantitative", "axis": null}, "y2": {"field": "ya"}}},
      {"data": {"name": "bl_sig"}, "mark": {"type": "rule", "color": "#000"},
       "encoding": {"x": {"field": "b", "type": "nominal", "axis": null}, "y": {"field": "y", "type": "quantitative", "axis": null}, "y2": {"field": "yb"}}},
      {"data": {"name": "bl_sig"}, "mark": {"type": "text", "fontSize": 9, "baseline": "bottom", "dy": -1, "color": "#000"},
       "encoding": {"x": {"field": "m", "type": "nominal", "bandPosition": 1, "axis": null}, "y": {"field": "y", "type": "quantitative", "axis": null}, "text": {"field": "t"}}}
    ]
  },
  {
    "resolve": {"axis": {"x": "independent", "y": "independent"}, "scale": {"xOffset": "independent"}},
    "layer": [
      {"data": {"name": "b_sep"}, "mark": {"type": "rule", "color": "#9a9a9a", "strokeDash": [3, 2], "strokeWidth": 0.8},
       "encoding": {"x": {"field": "cat", "type": "nominal", "bandPosition": 0, "axis": {"orient": "top", "offset": 0, "domain": false, "ticks": false, "labels": false, "title": "Particle", "titleX": 650, "titleY": 6, "titleAlign": "center", "titleBaseline": "middle", "titleFontSize": 13, "titleColor": "#000"}},
                    "y": {"datum": 0, "type": "quantitative", "axis": null}, "y2": {"datum": 3000}}},
      {"data": {"name": "br_box"}, "mark": {"type": "rule", "color": "#222"},
       "encoding": {
         "x": {"field": "cat", "type": "nominal", "scale": {"domain": ["E.coli Control", "E.coli Cirrhosis", "S.aureus Control", "S.aureus Cirrhosis", "Untreated"], "range": [610, 724], "paddingInner": 0, "paddingOuter": 0.068, "align": 0},
               "axis": {"orient": "bottom", "offset": -366, "title": null, "tickSize": 5, "labelExpr": "datum.value == 'E.coli Control' ? 'E.coli' : datum.value == 'S.aureus Control' ? 'S.aureus' : ''", "labelOffset": 11, "labelFontSize": 10.5, "labelFontStyle": "italic", "labelColor": "#000", "labelPadding": 0, "labelAngle": 0}},
         "y": {"field": "min", "type": "quantitative", "scale": {"domain": [0, 3000], "range": [114, 19], "nice": false},
               "axis": {"orient": "left", "offset": -610, "title": "MFI of Macrophages", "format": "d", "values": [0, 500, 1000, 1500, 2000, 2500, 3000], "labelExpr": "datum.value % 1000 == 0 ? datum.label : ''", "tickSize": {"condition": {"test": "datum.value % 1000 != 0", "value": 2}, "value": 4}}},
         "y2": {"field": "max"}}},
      {"data": {"name": "br_box"}, "mark": {"type": "bar", "width": {"band": 0.66}, "stroke": "#444", "strokeWidth": 1},
       "encoding": {
         "x": {"field": "cat", "type": "nominal", "axis": null},
         "y": {"field": "q1", "type": "quantitative", "axis": null},
         "y2": {"field": "q3"},
         "fill": {"field": "grp", "type": "nominal", "scale": {"domain": ["Control", "Cirrhosis", "Untreated"], "range": ["#4b8c0a", "#f98481", "#000000"]},
                  "legend": {"orient": "none", "legendX": 704, "legendY": 37, "title": null, "symbolType": "square", "symbolSize": 110, "symbolStrokeColor": "#333", "symbolStrokeWidth": 1.2, "labelFontSize": 9.5, "labelColor": "#000", "labelOffset": 5, "rowPadding": 5}}}},
      {"data": {"name": "br_box"}, "mark": {"type": "tick", "orient": "horizontal", "size": 7, "thickness": 1, "color": "#222"},
       "encoding": {"x": {"field": "cat", "type": "nominal", "axis": null}, "y": {"field": "min", "type": "quantitative", "axis": null}}},
      {"data": {"name": "br_box"}, "mark": {"type": "tick", "orient": "horizontal", "size": 7, "thickness": 1, "color": "#222"},
       "encoding": {"x": {"field": "cat", "type": "nominal", "axis": null}, "y": {"field": "max", "type": "quantitative", "axis": null}}},
      {"data": {"name": "br_box"}, "mark": {"type": "tick", "orient": "horizontal", "size": 14.6, "thickness": 1.5, "color": "#222"},
       "encoding": {"x": {"field": "cat", "type": "nominal", "axis": null}, "y": {"field": "med", "type": "quantitative", "axis": null}}},
      {"data": {"name": "br_pts"}, "transform": [{"filter": "datum.cat != 'Untreated'"}], "mark": {"type": "circle", "size": 11, "color": "#000", "opacity": 1},
       "encoding": {"x": {"field": "cat", "type": "nominal", "axis": null}, "xOffset": {"field": "i", "type": "nominal", "scale": {"paddingOuter": 3}}, "y": {"field": "v", "type": "quantitative", "axis": null}}},
      {"data": {"name": "br_pts"}, "transform": [{"filter": "datum.cat == 'Untreated'"}], "mark": {"type": "circle", "size": 11, "color": "#000", "opacity": 1},
       "encoding": {"x": {"field": "cat", "type": "nominal", "axis": null}, "xOffset": {"field": "i", "type": "nominal", "scale": {"paddingOuter": 3}}, "y": {"field": "v", "type": "quantitative", "axis": null}}},
      {"data": {"name": "b_brk"}, "mark": {"type": "rule", "color": "#000"},
       "encoding": {"x": {"field": "a", "type": "nominal", "axis": null}, "x2": {"field": "b"}, "y": {"datum": -158, "type": "quantitative", "axis": null}}}
    ]
  },
  {
    "resolve": {"axis": {"x": "independent", "y": "independent"}, "scale": {"xOffset": "independent"}},
    "layer": [
      {"data": {"name": "c_sep"}, "mark": {"type": "rule", "color": "#9a9a9a", "strokeDash": [3, 2], "strokeWidth": 0.8},
       "encoding": {"x": {"field": "cat", "type": "nominal", "bandPosition": 0, "axis": {"orient": "top", "offset": 0, "domain": false, "ticks": false, "labels": false, "title": "AXL", "titleX": 105, "titleY": 165, "titleAlign": "center", "titleBaseline": "middle", "titleFontSize": 13, "titleColor": "#000"}},
                    "y": {"datum": 0, "type": "quantitative", "axis": null}, "y2": {"datum": 80}}},
      {"data": {"name": "cl_box"}, "mark": {"type": "rule", "color": "#222"},
       "encoding": {
         "x": {"field": "cat", "type": "nominal", "scale": {"domain": ["Control -", "Control +E. coli", "Control +S. aureus", "Cirrhosis -", "Cirrhosis +E. coli", "Cirrhosis +S. aureus"], "range": [32, 182], "paddingInner": 0, "paddingOuter": 0.157, "align": 0.34},
               "axis": {"orient": "bottom", "offset": -203, "title": null, "tickSize": 3, "labelExpr": "replace(replace(datum.value, 'Control ', ''), 'Cirrhosis ', '')", "labelFontSize": 5, "labelColor": "#333", "labelAngle": -45, "labelPadding": 1}},
         "y": {"field": "min", "type": "quantitative", "scale": {"domain": [0, 80], "range": [277, 177], "nice": false},
               "axis": {"orient": "left", "offset": -32, "title": "% of Macrophages", "titleFontSize": 9.5, "values": [0, 10, 20, 30, 40, 50, 60, 70, 80], "labelExpr": "datum.value % 20 == 0 ? datum.label : ''", "tickSize": {"condition": {"test": "datum.value % 20 != 0", "value": 2}, "value": 4}}},
         "y2": {"field": "max"}}},
      {"data": {"name": "cl_box"}, "mark": {"type": "bar", "width": {"band": 0.77}, "stroke": "#444", "strokeWidth": 1},
       "encoding": {
         "x": {"field": "cat", "type": "nominal", "axis": {"orient": "top", "offset": 0, "domain": false, "ticks": false, "labels": false, "title": "C", "titleX": 11, "titleY": 163, "titleAlign": "center", "titleBaseline": "middle", "titleFontSize": 22, "titleFontWeight": "bold", "titleColor": "#000"}},
         "y": {"field": "q1", "type": "quantitative", "axis": null},
         "y2": {"field": "q3"},
         "fill": {"field": "grp", "type": "nominal", "scale": {"domain": ["Control", "Cirrhosis"], "range": ["#4b8c0a", "#f98481"]}, "legend": null}}},
      {"data": {"name": "cl_box"}, "mark": {"type": "tick", "orient": "horizontal", "size": 7, "thickness": 1, "color": "#222"},
       "encoding": {"x": {"field": "cat", "type": "nominal", "axis": null}, "y": {"field": "min", "type": "quantitative", "axis": null}}},
      {"data": {"name": "cl_box"}, "mark": {"type": "tick", "orient": "horizontal", "size": 7, "thickness": 1, "color": "#222"},
       "encoding": {"x": {"field": "cat", "type": "nominal", "axis": null}, "y": {"field": "max", "type": "quantitative", "axis": null}}},
      {"data": {"name": "cl_box"}, "mark": {"type": "tick", "orient": "horizontal", "size": 18.3, "thickness": 1.5, "color": "#222"},
       "encoding": {"x": {"field": "cat", "type": "nominal", "axis": null}, "y": {"field": "med", "type": "quantitative", "axis": null}}},
      {"data": {"name": "cl_pts"}, "mark": {"type": "circle", "size": 11, "color": "#000", "opacity": 1},
       "encoding": {"x": {"field": "cat", "type": "nominal", "axis": null}, "xOffset": {"field": "i", "type": "nominal", "scale": {"paddingOuter": 3}}, "y": {"field": "v", "type": "quantitative", "axis": null}}}
    ]
  },
  {
    "resolve": {"axis": {"x": "independent", "y": "independent"}, "scale": {"xOffset": "independent"}},
    "layer": [
      {"data": {"name": "c_sep"}, "mark": {"type": "rule", "color": "#9a9a9a", "strokeDash": [3, 2], "strokeWidth": 0.8},
       "encoding": {"x": {"field": "cat", "type": "nominal", "bandPosition": 0, "axis": {"orient": "top", "offset": 0, "domain": false, "ticks": false, "labels": false, "title": "AXL", "titleX": 287, "titleY": 165, "titleAlign": "center", "titleBaseline": "middle", "titleFontSize": 13, "titleColor": "#000"}},
                    "y": {"datum": 0, "type": "quantitative", "axis": null}, "y2": {"datum": 1000}}},
      {"data": {"name": "cr_box"}, "mark": {"type": "rule", "color": "#222"},
       "encoding": {
         "x": {"field": "cat", "type": "nominal", "scale": {"domain": ["Control -", "Control +E.coli", "Control +S.aureus", "Cirrhosis -", "Cirrhosis +E.coli", "Cirrhosis +S.aureus"], "range": [218, 364], "paddingInner": 0, "paddingOuter": 0.34, "align": 0.53},
               "axis": {"orient": "bottom", "offset": -203, "title": null, "tickSize": 3, "labelExpr": "replace(replace(datum.value, 'Control ', ''), 'Cirrhosis ', '')", "labelFontSize": 5, "labelColor": "#333", "labelAngle": -45, "labelPadding": 1}},
         "y": {"field": "min", "type": "quantitative", "scale": {"domain": [0, 1000], "range": [277, 181], "nice": false},
               "axis": {"orient": "left", "offset": -218, "title": "MFI of Macrophages", "titleFontSize": 9.5, "format": "d", "values": [0, 100, 200, 300, 400, 500, 600, 700, 800, 900, 1000], "labelExpr": "datum.value % 200 == 0 ? datum.label : ''", "tickSize": {"condition": {"test": "datum.value % 200 != 0", "value": 2}, "value": 4}}},
         "y2": {"field": "max"}}},
      {"data": {"name": "cr_box"}, "mark": {"type": "bar", "width": {"band": 0.8}, "stroke": "#444", "strokeWidth": 1},
       "encoding": {
         "x": {"field": "cat", "type": "nominal", "axis": null},
         "y": {"field": "q1", "type": "quantitative", "axis": null},
         "y2": {"field": "q3"},
         "fill": {"field": "grp", "type": "nominal", "scale": {"domain": ["Control", "Cirrhosis"], "range": ["#4b8c0a", "#f98481"]}, "legend": null}}},
      {"data": {"name": "cr_box"}, "mark": {"type": "tick", "orient": "horizontal", "size": 7, "thickness": 1, "color": "#222"},
       "encoding": {"x": {"field": "cat", "type": "nominal", "axis": null}, "y": {"field": "min", "type": "quantitative", "axis": null}}},
      {"data": {"name": "cr_box"}, "mark": {"type": "tick", "orient": "horizontal", "size": 7, "thickness": 1, "color": "#222"},
       "encoding": {"x": {"field": "cat", "type": "nominal", "axis": null}, "y": {"field": "max", "type": "quantitative", "axis": null}}},
      {"data": {"name": "cr_box"}, "mark": {"type": "tick", "orient": "horizontal", "size": 17.5, "thickness": 1.5, "color": "#222"},
       "encoding": {"x": {"field": "cat", "type": "nominal", "axis": null}, "y": {"field": "med", "type": "quantitative", "axis": null}}},
      {"data": {"name": "cr_pts"}, "mark": {"type": "circle", "size": 11, "color": "#000", "opacity": 1},
       "encoding": {"x": {"field": "cat", "type": "nominal", "axis": null}, "xOffset": {"field": "i", "type": "nominal", "scale": {"paddingOuter": 3}}, "y": {"field": "v", "type": "quantitative", "axis": null}}}
    ]
  },
  {
    "resolve": {"axis": {"x": "independent", "y": "independent"}, "scale": {"xOffset": "independent"}},
    "layer": [
      {"data": {"name": "d_sep"}, "mark": {"type": "rule", "color": "#9a9a9a", "strokeDash": [3, 2], "strokeWidth": 0.8},
       "encoding": {"x": {"field": "cat", "type": "nominal", "bandPosition": 0, "axis": {"orient": "top", "offset": 0, "domain": false, "ticks": false, "labels": false, "title": "E.coli", "titleX": 472, "titleY": 165, "titleAlign": "center", "titleBaseline": "middle", "titleFontSize": 13, "titleFontStyle": "italic", "titleColor": "#000"}},
                    "y": {"datum": 0, "type": "quantitative", "axis": null}, "y2": {"datum": 100}}},
      {"data": {"name": "dtl_box"}, "mark": {"type": "rule", "color": "#222"},
       "encoding": {
         "x": {"field": "cat", "type": "nominal", "scale": {"domain": ["Control AXL-", "Control AXL+", "Cirrhosis AXL-", "Cirrhosis AXL+", "Untreated"], "range": [417, 549], "paddingInner": 0, "paddingOuter": 0.14, "align": 0.5},
               "axis": {"orient": "bottom", "offset": -203, "title": null, "tickSize": 5, "labelExpr": "datum.value == 'Control AXL-' ? 'Control' : datum.value == 'Cirrhosis AXL-' ? 'Cirrhosis' : ''", "labelOffset": 12.5, "labelFontSize": 11, "labelColor": "#000", "labelPadding": 0, "labelAngle": 0}},
         "y": {"field": "min", "type": "quantitative", "scale": {"domain": [0, 100], "range": [277, 174], "nice": false},
               "axis": {"orient": "left", "offset": -417, "title": "% of Macrophages", "values": [0, 10, 20, 30, 40, 50, 60, 70, 80, 90, 100], "labelExpr": "datum.value % 20 == 0 ? datum.label : ''", "tickSize": {"condition": {"test": "datum.value % 20 != 0", "value": 2}, "value": 4}}},
         "y2": {"field": "max"}}},
      {"data": {"name": "dtl_box"}, "mark": {"type": "bar", "width": {"band": 0.68}, "stroke": "#444", "strokeWidth": 1},
       "encoding": {
         "x": {"field": "cat", "type": "nominal", "axis": {"orient": "top", "offset": 0, "domain": false, "ticks": false, "labels": false, "title": "D", "titleX": 393, "titleY": 173, "titleAlign": "center", "titleBaseline": "middle", "titleFontSize": 22, "titleFontWeight": "bold", "titleColor": "#000"}},
         "y": {"field": "q1", "type": "quantitative", "axis": null},
         "y2": {"field": "q3"},
         "fill": {"field": "grp", "type": "nominal", "scale": {"domain": ["AXL-", "AXL+", "Untreated"], "range": ["#6dcff6", "#f98481", "#555555"]}, "legend": null}}},
      {"data": {"name": "dtl_box"}, "mark": {"type": "tick", "orient": "horizontal", "size": 8, "thickness": 1, "color": "#222"},
       "encoding": {"x": {"field": "cat", "type": "nominal", "axis": null}, "y": {"field": "min", "type": "quantitative", "axis": null}}},
      {"data": {"name": "dtl_box"}, "mark": {"type": "tick", "orient": "horizontal", "size": 8, "thickness": 1, "color": "#222"},
       "encoding": {"x": {"field": "cat", "type": "nominal", "axis": null}, "y": {"field": "max", "type": "quantitative", "axis": null}}},
      {"data": {"name": "dtl_box"}, "mark": {"type": "tick", "orient": "horizontal", "size": 17, "thickness": 1.5, "color": "#222"},
       "encoding": {"x": {"field": "cat", "type": "nominal", "axis": null}, "y": {"field": "med", "type": "quantitative", "axis": null}}},
      {"data": {"name": "dtl_pts"}, "transform": [{"filter": "datum.cat != 'Untreated'"}], "mark": {"type": "circle", "size": 11, "color": "#000", "opacity": 1},
       "encoding": {"x": {"field": "cat", "type": "nominal", "axis": null}, "xOffset": {"field": "i", "type": "nominal", "scale": {"paddingOuter": 3}}, "y": {"field": "v", "type": "quantitative", "axis": null}}},
      {"data": {"name": "dtl_pts"}, "transform": [{"filter": "datum.cat == 'Untreated'"}], "mark": {"type": "circle", "size": 11, "color": "#000", "opacity": 1},
       "encoding": {"x": {"field": "cat", "type": "nominal", "axis": null}, "xOffset": {"field": "i", "type": "nominal", "scale": {"paddingOuter": 3}}, "y": {"field": "v", "type": "quantitative", "axis": null}}},
      {"data": {"name": "d_brk"}, "mark": {"type": "rule", "color": "#000"},
       "encoding": {"x": {"field": "a", "type": "nominal", "axis": null}, "x2": {"field": "b"}, "y": {"datum": -4.9, "type": "quantitative", "axis": null}}}
    ]
  },
  {
    "resolve": {"axis": {"x": "independent", "y": "independent"}, "scale": {"xOffset": "independent"}},
    "layer": [
      {"data": {"name": "d_sep"}, "mark": {"type": "rule", "color": "#9a9a9a", "strokeDash": [3, 2], "strokeWidth": 0.8},
       "encoding": {"x": {"field": "cat", "type": "nominal", "bandPosition": 0, "axis": {"orient": "top", "offset": 0, "domain": false, "ticks": false, "labels": false, "title": "S.aureus", "titleX": 642, "titleY": 165, "titleAlign": "center", "titleBaseline": "middle", "titleFontSize": 13, "titleFontStyle": "italic", "titleColor": "#000"}},
                    "y": {"datum": 0, "type": "quantitative", "axis": null}, "y2": {"datum": 100}}},
      {"data": {"name": "dtr_box"}, "mark": {"type": "rule", "color": "#222"},
       "encoding": {
         "x": {"field": "cat", "type": "nominal", "scale": {"domain": ["Control AXL-", "Control AXL+", "Cirrhosis AXL-", "Cirrhosis AXL+", "Untreated"], "range": [585, 722], "paddingInner": 0, "paddingOuter": 0.185, "align": 0.5},
               "axis": {"orient": "bottom", "offset": -203, "title": null, "tickSize": 5, "labelExpr": "datum.value == 'Control AXL-' ? 'Control' : datum.value == 'Cirrhosis AXL-' ? 'Cirrhosis' : ''", "labelOffset": 12.75, "labelFontSize": 11, "labelColor": "#000", "labelPadding": 0, "labelAngle": 0}},
         "y": {"field": "min", "type": "quantitative", "scale": {"domain": [0, 100], "range": [277, 174], "nice": false},
               "axis": {"orient": "left", "offset": -585, "title": "% of Macrophages", "values": [0, 10, 20, 30, 40, 50, 60, 70, 80, 90, 100], "labelExpr": "datum.value % 20 == 0 ? datum.label : ''", "tickSize": {"condition": {"test": "datum.value % 20 != 0", "value": 2}, "value": 4}}},
         "y2": {"field": "max"}}},
      {"data": {"name": "dtr_box"}, "mark": {"type": "bar", "width": {"band": 0.68}, "stroke": "#444", "strokeWidth": 1},
       "encoding": {
         "x": {"field": "cat", "type": "nominal", "axis": null},
         "y": {"field": "q1", "type": "quantitative", "axis": null},
         "y2": {"field": "q3"},
         "fill": {"field": "grp", "type": "nominal", "scale": {"domain": ["AXL-", "AXL+", "Untreated"], "range": ["#6dcff6", "#f98481", "#555555"]},
                  "legend": {"orient": "none", "legendX": 705, "legendY": 292, "title": null, "symbolType": "square", "symbolSize": 110, "symbolStrokeColor": "#333", "symbolStrokeWidth": 1.2, "labelFontSize": 9.5, "labelColor": "#000", "labelOffset": 5, "rowPadding": 4}}}},
      {"data": {"name": "dtr_box"}, "mark": {"type": "tick", "orient": "horizontal", "size": 8, "thickness": 1, "color": "#222"},
       "encoding": {"x": {"field": "cat", "type": "nominal", "axis": null}, "y": {"field": "min", "type": "quantitative", "axis": null}}},
      {"data": {"name": "dtr_box"}, "mark": {"type": "tick", "orient": "horizontal", "size": 8, "thickness": 1, "color": "#222"},
       "encoding": {"x": {"field": "cat", "type": "nominal", "axis": null}, "y": {"field": "max", "type": "quantitative", "axis": null}}},
      {"data": {"name": "dtr_box"}, "mark": {"type": "tick", "orient": "horizontal", "size": 17.3, "thickness": 1.5, "color": "#222"},
       "encoding": {"x": {"field": "cat", "type": "nominal", "axis": null}, "y": {"field": "med", "type": "quantitative", "axis": null}}},
      {"data": {"name": "dtr_pts"}, "transform": [{"filter": "datum.cat != 'Untreated'"}], "mark": {"type": "circle", "size": 11, "color": "#000", "opacity": 1},
       "encoding": {"x": {"field": "cat", "type": "nominal", "axis": null}, "xOffset": {"field": "i", "type": "nominal", "scale": {"paddingOuter": 3}}, "y": {"field": "v", "type": "quantitative", "axis": null}}},
      {"data": {"name": "dtr_pts"}, "transform": [{"filter": "datum.cat == 'Untreated'"}], "mark": {"type": "circle", "size": 11, "color": "#000", "opacity": 1},
       "encoding": {"x": {"field": "cat", "type": "nominal", "axis": null}, "xOffset": {"field": "i", "type": "nominal", "scale": {"paddingOuter": 3}}, "y": {"field": "v", "type": "quantitative", "axis": null}}},
      {"data": {"name": "d_brk"}, "mark": {"type": "rule", "color": "#000"},
       "encoding": {"x": {"field": "a", "type": "nominal", "axis": null}, "x2": {"field": "b"}, "y": {"datum": -4.9, "type": "quantitative", "axis": null}}}
    ]
  },
  {
    "resolve": {"axis": {"x": "independent", "y": "independent"}, "scale": {"xOffset": "independent"}},
    "layer": [
      {"data": {"name": "d_sep"}, "mark": {"type": "rule", "color": "#9a9a9a", "strokeDash": [3, 2], "strokeWidth": 0.8},
       "encoding": {"x": {"field": "cat", "type": "nominal", "bandPosition": 0, "axis": {"orient": "top", "offset": 0, "domain": false, "ticks": false, "labels": false, "title": "E.coli", "titleX": 471, "titleY": 345, "titleAlign": "center", "titleBaseline": "middle", "titleFontSize": 13, "titleFontStyle": "italic", "titleColor": "#000"}},
                    "y": {"datum": 0, "type": "quantitative", "axis": null}, "y2": {"datum": 2000}}},
      {"data": {"name": "dbl_box"}, "mark": {"type": "rule", "color": "#222"},
       "encoding": {
         "x": {"field": "cat", "type": "nominal", "scale": {"domain": ["Control AXL-", "Control AXL+", "Cirrhosis AXL-", "Cirrhosis AXL+", "Untreated"], "range": [413, 552], "paddingInner": 0, "paddingOuter": 0.18, "align": 0.5},
               "axis": {"orient": "bottom", "offset": -22, "title": null, "tickSize": 5, "labelExpr": "datum.value == 'Control AXL-' ? 'Control' : datum.value == 'Cirrhosis AXL-' ? 'Cirrhosis' : ''", "labelOffset": 13, "labelFontSize": 11, "labelColor": "#000", "labelPadding": 0, "labelAngle": 0}},
         "y": {"field": "min", "type": "quantitative", "scale": {"domain": [0, 2000], "range": [458, 355], "nice": false},
               "axis": {"orient": "left", "offset": -413, "title": "MFI of Macrophages", "format": "d", "values": [0, 250, 500, 750, 1000, 1250, 1500, 1750, 2000], "labelExpr": "datum.value % 500 == 0 ? datum.label : ''", "tickSize": {"condition": {"test": "datum.value % 500 != 0", "value": 2}, "value": 4}}},
         "y2": {"field": "max"}}},
      {"data": {"name": "dbl_box"}, "mark": {"type": "bar", "width": {"band": 0.68}, "stroke": "#444", "strokeWidth": 1},
       "encoding": {
         "x": {"field": "cat", "type": "nominal", "axis": null},
         "y": {"field": "q1", "type": "quantitative", "axis": null},
         "y2": {"field": "q3"},
         "fill": {"field": "grp", "type": "nominal", "scale": {"domain": ["AXL-", "AXL+", "Untreated"], "range": ["#6dcff6", "#f98481", "#555555"]}, "legend": null}}},
      {"data": {"name": "dbl_box"}, "mark": {"type": "tick", "orient": "horizontal", "size": 8, "thickness": 1, "color": "#222"},
       "encoding": {"x": {"field": "cat", "type": "nominal", "axis": null}, "y": {"field": "min", "type": "quantitative", "axis": null}}},
      {"data": {"name": "dbl_box"}, "mark": {"type": "tick", "orient": "horizontal", "size": 8, "thickness": 1, "color": "#222"},
       "encoding": {"x": {"field": "cat", "type": "nominal", "axis": null}, "y": {"field": "max", "type": "quantitative", "axis": null}}},
      {"data": {"name": "dbl_box"}, "mark": {"type": "tick", "orient": "horizontal", "size": 17.6, "thickness": 1.5, "color": "#222"},
       "encoding": {"x": {"field": "cat", "type": "nominal", "axis": null}, "y": {"field": "med", "type": "quantitative", "axis": null}}},
      {"data": {"name": "dbl_pts"}, "transform": [{"filter": "datum.cat != 'Untreated'"}], "mark": {"type": "circle", "size": 11, "color": "#000", "opacity": 1},
       "encoding": {"x": {"field": "cat", "type": "nominal", "axis": null}, "xOffset": {"field": "i", "type": "nominal", "scale": {"paddingOuter": 3}}, "y": {"field": "v", "type": "quantitative", "axis": null}}},
      {"data": {"name": "dbl_pts"}, "transform": [{"filter": "datum.cat == 'Untreated'"}], "mark": {"type": "circle", "size": 11, "color": "#000", "opacity": 1},
       "encoding": {"x": {"field": "cat", "type": "nominal", "axis": null}, "xOffset": {"field": "i", "type": "nominal", "scale": {"paddingOuter": 3}}, "y": {"field": "v", "type": "quantitative", "axis": null}}},
      {"data": {"name": "d_brk"}, "mark": {"type": "rule", "color": "#000"},
       "encoding": {"x": {"field": "a", "type": "nominal", "axis": null}, "x2": {"field": "b"}, "y": {"datum": -97, "type": "quantitative", "axis": null}}}
    ]
  },
  {
    "resolve": {"axis": {"x": "independent", "y": "independent"}, "scale": {"xOffset": "independent"}},
    "layer": [
      {"data": {"name": "d_sep"}, "mark": {"type": "rule", "color": "#9a9a9a", "strokeDash": [3, 2], "strokeWidth": 0.8},
       "encoding": {"x": {"field": "cat", "type": "nominal", "bandPosition": 0, "axis": {"orient": "top", "offset": 0, "domain": false, "ticks": false, "labels": false, "title": "S.aureus", "titleX": 640, "titleY": 345, "titleAlign": "center", "titleBaseline": "middle", "titleFontSize": 13, "titleFontStyle": "italic", "titleColor": "#000"}},
                    "y": {"datum": 0, "type": "quantitative", "axis": null}, "y2": {"datum": 4000}}},
      {"data": {"name": "dbr_box"}, "mark": {"type": "rule", "color": "#222"},
       "encoding": {
         "x": {"field": "cat", "type": "nominal", "scale": {"domain": ["Control AXL-", "Control AXL+", "Cirrhosis AXL-", "Cirrhosis AXL+", "Untreated"], "range": [585, 722], "paddingInner": 0, "paddingOuter": 0.21, "align": 0.5},
               "axis": {"orient": "bottom", "offset": -22, "title": null, "tickSize": 5, "labelExpr": "datum.value == 'Control AXL-' ? 'Control' : datum.value == 'Cirrhosis AXL-' ? 'Cirrhosis' : ''", "labelOffset": 12.6, "labelFontSize": 11, "labelColor": "#000", "labelPadding": 0, "labelAngle": 0}},
         "y": {"field": "min", "type": "quantitative", "scale": {"domain": [0, 4000], "range": [458, 356], "nice": false},
               "axis": {"orient": "left", "offset": -585, "title": "MFI of Macrophages", "format": "d", "values": [0, 500, 1000, 1500, 2000, 2500, 3000, 3500, 4000], "labelExpr": "datum.value % 1000 == 0 ? datum.label : ''", "tickSize": {"condition": {"test": "datum.value % 1000 != 0", "value": 2}, "value": 4}}},
         "y2": {"field": "max"}}},
      {"data": {"name": "dbr_box"}, "mark": {"type": "bar", "width": {"band": 0.68}, "stroke": "#444", "strokeWidth": 1},
       "encoding": {
         "x": {"field": "cat", "type": "nominal", "axis": null},
         "y": {"field": "q1", "type": "quantitative", "axis": null},
         "y2": {"field": "q3"},
         "fill": {"field": "grp", "type": "nominal", "scale": {"domain": ["AXL-", "AXL+", "Untreated"], "range": ["#6dcff6", "#f98481", "#555555"]}, "legend": null}}},
      {"data": {"name": "dbr_box"}, "mark": {"type": "tick", "orient": "horizontal", "size": 8, "thickness": 1, "color": "#222"},
       "encoding": {"x": {"field": "cat", "type": "nominal", "axis": null}, "y": {"field": "min", "type": "quantitative", "axis": null}}},
      {"data": {"name": "dbr_box"}, "mark": {"type": "tick", "orient": "horizontal", "size": 8, "thickness": 1, "color": "#222"},
       "encoding": {"x": {"field": "cat", "type": "nominal", "axis": null}, "y": {"field": "max", "type": "quantitative", "axis": null}}},
      {"data": {"name": "dbr_box"}, "mark": {"type": "tick", "orient": "horizontal", "size": 17.1, "thickness": 1.5, "color": "#222"},
       "encoding": {"x": {"field": "cat", "type": "nominal", "axis": null}, "y": {"field": "med", "type": "quantitative", "axis": null}}},
      {"data": {"name": "dbr_pts"}, "transform": [{"filter": "datum.cat != 'Untreated'"}], "mark": {"type": "circle", "size": 11, "color": "#000", "opacity": 1},
       "encoding": {"x": {"field": "cat", "type": "nominal", "axis": null}, "xOffset": {"field": "i", "type": "nominal", "scale": {"paddingOuter": 3}}, "y": {"field": "v", "type": "quantitative", "axis": null}}},
      {"data": {"name": "dbr_pts"}, "transform": [{"filter": "datum.cat == 'Untreated'"}], "mark": {"type": "circle", "size": 11, "color": "#000", "opacity": 1},
       "encoding": {"x": {"field": "cat", "type": "nominal", "axis": null}, "xOffset": {"field": "i", "type": "nominal", "scale": {"paddingOuter": 3}}, "y": {"field": "v", "type": "quantitative", "axis": null}}},
      {"data": {"name": "d_brk"}, "mark": {"type": "rule", "color": "#000"},
       "encoding": {"x": {"field": "a", "type": "nominal", "axis": null}, "x2": {"field": "b"}, "y": {"datum": -194, "type": "quantitative", "axis": null}}}
    ]
  },
  {
    "resolve": {"axis": {"x": "independent", "y": "independent"}, "scale": {"xOffset": "independent"}},
    "layer": [
      {"data": {"name": "el_box"}, "mark": {"type": "rule", "color": "#222"},
       "encoding": {
         "x": {"field": "cat", "type": "nominal", "scale": {"domain": ["non-migrated", "sub-endothelial", "reverse-migrated"], "range": [35, 182], "paddingInner": 0, "paddingOuter": 0.3, "align": 0.26},
               "axis": {"orient": "bottom", "offset": -22, "title": null, "tickSize": 3, "labelExpr": "datum.value == 'non-migrated' ? ['non-', 'migrated'] : datum.value == 'sub-endothelial' ? ['sub-', 'endothelial'] : ['reverse-', 'migrated']", "labelFontSize": 7, "labelLineHeight": 9.5, "labelColor": "#222", "labelAngle": 0, "labelPadding": 2}},
         "y": {"field": "min", "type": "quantitative", "scale": {"domain": [0, 100], "range": [458, 357], "nice": false},
               "axis": {"orient": "left", "offset": -35, "title": "% of Monocytes", "titleFontSize": 9.5, "values": [0, 10, 20, 30, 40, 50, 60, 70, 80, 90, 100], "labelExpr": "datum.value % 20 == 0 ? datum.label : ''", "tickSize": {"condition": {"test": "datum.value % 20 != 0", "value": 2}, "value": 4}}},
         "y2": {"field": "max"}}},
      {"data": {"name": "el_box"}, "mark": {"type": "bar", "width": {"band": 0.65}, "stroke": "#222", "strokeWidth": 1},
       "encoding": {
         "x": {"field": "cat", "type": "nominal", "axis": {"orient": "top", "offset": 0, "domain": false, "ticks": false, "labels": false, "title": "AXL", "titleX": 103, "titleY": 329, "titleAlign": "center", "titleBaseline": "middle", "titleFontSize": 13, "titleColor": "#000"}},
         "y": {"field": "q1", "type": "quantitative", "axis": null},
         "y2": {"field": "q3"},
         "fill": {"field": "grp", "type": "nominal", "scale": {"domain": ["non-migrated", "sub-endothelial", "reverse-migrated"], "range": ["#ffffff", "#dcdcdc", "#7f7f7f"]}, "legend": null}}},
      {"data": {"name": "el_box"}, "mark": {"type": "tick", "orient": "horizontal", "size": 10, "thickness": 1, "color": "#222"},
       "encoding": {"x": {"field": "cat", "type": "nominal", "axis": {"orient": "top", "offset": 0, "domain": false, "ticks": false, "labels": false, "title": "E", "titleX": 8, "titleY": 355, "titleAlign": "center", "titleBaseline": "middle", "titleFontSize": 22, "titleFontWeight": "bold", "titleColor": "#000"}}, "y": {"field": "min", "type": "quantitative", "axis": null}}},
      {"data": {"name": "el_box"}, "mark": {"type": "tick", "orient": "horizontal", "size": 10, "thickness": 1, "color": "#222"},
       "encoding": {"x": {"field": "cat", "type": "nominal", "axis": null}, "y": {"field": "max", "type": "quantitative", "axis": null}}},
      {"data": {"name": "el_box"}, "mark": {"type": "tick", "orient": "horizontal", "size": 26.5, "thickness": 1.2, "color": "#222"},
       "encoding": {"x": {"field": "cat", "type": "nominal", "axis": null}, "y": {"field": "med", "type": "quantitative", "axis": null}}},
      {"data": {"name": "el_pts"}, "mark": {"type": "circle", "size": 13, "color": "#000", "opacity": 1},
       "encoding": {"x": {"field": "cat", "type": "nominal", "axis": null}, "xOffset": {"field": "i", "type": "nominal", "scale": {"paddingOuter": 3}}, "y": {"field": "v", "type": "quantitative", "axis": null}}},
      {"data": {"name": "el_sig"}, "mark": {"type": "rule", "color": "#555"},
       "encoding": {"x": {"field": "a", "type": "nominal", "axis": null}, "x2": {"field": "b"}, "y": {"field": "y", "type": "quantitative", "axis": null}}},
      {"data": {"name": "el_sig"}, "mark": {"type": "rule", "color": "#555"},
       "encoding": {"x": {"field": "a", "type": "nominal", "axis": null}, "y": {"field": "y", "type": "quantitative", "axis": null}, "y2": {"field": "ya"}}},
      {"data": {"name": "el_sig"}, "mark": {"type": "rule", "color": "#555"},
       "encoding": {"x": {"field": "b", "type": "nominal", "axis": null}, "y": {"field": "y", "type": "quantitative", "axis": null}, "y2": {"field": "yb"}}},
      {"data": {"name": "el_sig"}, "transform": [{"filter": "datum.span == 1"}], "mark": {"type": "text", "fontSize": 8, "fontWeight": "bold", "baseline": "bottom", "dy": -1, "color": "#000"},
       "encoding": {"x": {"field": "m", "type": "nominal", "bandPosition": 1, "axis": null}, "y": {"field": "y", "type": "quantitative", "axis": null}, "text": {"field": "t"}}},
      {"data": {"name": "el_sig"}, "transform": [{"filter": "datum.span == 2"}], "mark": {"type": "text", "fontSize": 8, "fontWeight": "bold", "baseline": "bottom", "dy": -1, "color": "#000"},
       "encoding": {"x": {"field": "m", "type": "nominal", "bandPosition": 0.5, "axis": null}, "y": {"field": "y", "type": "quantitative", "axis": null}, "text": {"field": "t"}}}
    ]
  },
  {
    "resolve": {"axis": {"x": "independent", "y": "independent"}, "scale": {"xOffset": "independent"}},
    "layer": [
      {"data": {"name": "er_box"}, "mark": {"type": "rule", "color": "#222"},
       "encoding": {
         "x": {"field": "cat", "type": "nominal", "scale": {"domain": ["non-migrated", "sub-endothelial", "reverse-migrated"], "range": [215, 325], "paddingInner": 0, "paddingOuter": 0.203, "align": 0.62},
               "axis": {"orient": "bottom", "offset": -22, "title": null, "tickSize": 3, "labelExpr": "datum.value == 'non-migrated' ? ['non-', 'migrated'] : datum.value == 'sub-endothelial' ? ['sub-', 'endothelial'] : ['reverse-', 'migrated']", "labelFontSize": 6, "labelLineHeight": 8, "labelColor": "#222", "labelAngle": 0, "labelPadding": 2}},
         "y": {"field": "min", "type": "quantitative", "scale": {"domain": [0, 1500], "range": [458, 357], "nice": false},
               "axis": {"orient": "left", "offset": -215, "title": "MFI of Monocytes", "titleFontSize": 9.5, "format": "d", "values": [0, 250, 500, 750, 1000, 1250, 1500], "labelExpr": "datum.value % 500 == 0 ? datum.label : ''", "tickSize": {"condition": {"test": "datum.value % 500 != 0", "value": 2}, "value": 4}}},
         "y2": {"field": "max"}}},
      {"data": {"name": "er_box"}, "mark": {"type": "bar", "width": {"band": 0.62}, "stroke": "#222", "strokeWidth": 1},
       "encoding": {
         "x": {"field": "cat", "type": "nominal", "axis": {"orient": "top", "offset": 0, "domain": false, "ticks": false, "labels": false, "title": "AXL", "titleX": 272, "titleY": 329, "titleAlign": "center", "titleBaseline": "middle", "titleFontSize": 13, "titleColor": "#000"}},
         "y": {"field": "q1", "type": "quantitative", "axis": null},
         "y2": {"field": "q3"},
         "fill": {"field": "grp", "type": "nominal", "scale": {"domain": ["non-migrated", "sub-endothelial", "reverse-migrated"], "range": ["#ffffff", "#dcdcdc", "#7f7f7f"]}, "legend": null}}},
      {"data": {"name": "er_box"}, "mark": {"type": "tick", "orient": "horizontal", "size": 9, "thickness": 1, "color": "#222"},
       "encoding": {"x": {"field": "cat", "type": "nominal", "axis": null}, "y": {"field": "min", "type": "quantitative", "axis": null}}},
      {"data": {"name": "er_box"}, "mark": {"type": "tick", "orient": "horizontal", "size": 9, "thickness": 1, "color": "#222"},
       "encoding": {"x": {"field": "cat", "type": "nominal", "axis": null}, "y": {"field": "max", "type": "quantitative", "axis": null}}},
      {"data": {"name": "er_box"}, "mark": {"type": "tick", "orient": "horizontal", "size": 20, "thickness": 1.2, "color": "#222"},
       "encoding": {"x": {"field": "cat", "type": "nominal", "axis": null}, "y": {"field": "med", "type": "quantitative", "axis": null}}},
      {"data": {"name": "er_pts"}, "mark": {"type": "circle", "size": 13, "color": "#000", "opacity": 1},
       "encoding": {"x": {"field": "cat", "type": "nominal", "axis": null}, "xOffset": {"field": "i", "type": "nominal", "scale": {"paddingOuter": 3}}, "y": {"field": "v", "type": "quantitative", "axis": null}}},
      {"data": {"name": "er_sig"}, "mark": {"type": "rule", "color": "#555"},
       "encoding": {"x": {"field": "a", "type": "nominal", "axis": null}, "x2": {"field": "b"}, "y": {"field": "y", "type": "quantitative", "axis": null}}},
      {"data": {"name": "er_sig"}, "mark": {"type": "rule", "color": "#555"},
       "encoding": {"x": {"field": "a", "type": "nominal", "axis": null}, "y": {"field": "y", "type": "quantitative", "axis": null}, "y2": {"field": "ya"}}},
      {"data": {"name": "er_sig"}, "mark": {"type": "rule", "color": "#555"},
       "encoding": {"x": {"field": "b", "type": "nominal", "axis": null}, "y": {"field": "y", "type": "quantitative", "axis": null}, "y2": {"field": "yb"}}},
      {"data": {"name": "er_sig"}, "transform": [{"filter": "datum.span == 1"}], "mark": {"type": "text", "fontSize": 8, "fontWeight": "bold", "baseline": "bottom", "dy": -1, "color": "#000"},
       "encoding": {"x": {"field": "m", "type": "nominal", "bandPosition": 1, "axis": null}, "y": {"field": "y", "type": "quantitative", "axis": null}, "text": {"field": "t"}}},
      {"data": {"name": "er_sig"}, "transform": [{"filter": "datum.span == 2"}], "mark": {"type": "text", "fontSize": 8, "fontWeight": "bold", "baseline": "bottom", "dy": -1, "color": "#000"},
       "encoding": {"x": {"field": "m", "type": "nominal", "bandPosition": 0.5, "axis": null}, "y": {"field": "y", "type": "quantitative", "axis": null}, "text": {"field": "t"}}}
    ]
  }
]
}
